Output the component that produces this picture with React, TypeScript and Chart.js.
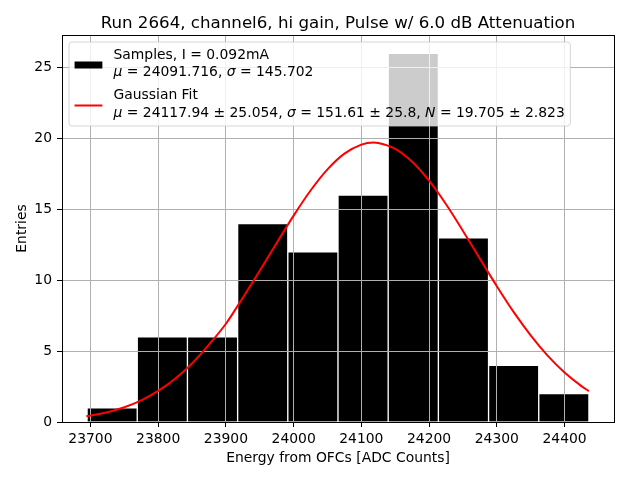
import React, { useEffect, useRef } from "react";
import { Chart, registerables } from "chart.js";

Chart.register(...registerables);

const titleText = "Run 2664, channel6, hi gain, Pulse w/ 6.0 dB Attenuation";
const xLabel = "Energy from OFCs [ADC Counts]";
const yLabel = "Entries";

// Histogram
const binEdges = [23695.0, 23769.1, 23843.2, 23917.3, 23991.4, 24065.5, 24139.6, 24213.7, 24287.8, 24361.9, 24436.0];
const binCounts = [1, 6, 6, 14, 12, 16, 26, 13, 4, 2];

// Gaussian fit curve
const fitX = [23694, 23725, 23750, 23775, 23800, 23825, 23850, 23875, 23900, 23925, 23950, 23975, 24000, 24025, 24050, 24075, 24100, 24118, 24125, 24150, 24175, 24200, 24225, 24250, 24275, 24300, 24325, 24350, 24375, 24400, 24425, 24436];
const fitY = [0.40, 0.69, 1.04, 1.53, 2.19, 3.05, 4.13, 5.46, 6.93, 8.77, 10.67, 12.63, 14.56, 16.33, 17.82, 18.93, 19.57, 19.71, 19.68, 19.27, 18.36, 17.02, 15.36, 13.48, 11.52, 9.58, 7.75, 6.11, 4.68, 3.49, 2.53, 2.18];

const xTicks = [23700, 23800, 23900, 24000, 24100, 24200, 24300, 24400];
const yTicks = [0, 5, 10, 15, 20, 25];
const xRange = [23658, 24473];
const yRange = [0, 27.3];

type Run = { t: string; i?: boolean };
const legendSamples: Run[][] = [
  [{ t: "Samples, I = 0.092mA" }],
  [{ t: "μ", i: true }, { t: " = 24091.716, " }, { t: "σ", i: true }, { t: " = 145.702" }],
];
const legendFit: Run[][] = [
  [{ t: "Gaussian Fit" }],
  [
    { t: "μ", i: true }, { t: " = 24117.94 ± 25.054, " },
    { t: "σ", i: true }, { t: " = 151.61 ± 25.8, " },
    { t: "N", i: true }, { t: " = 19.705 ± 2.823" },
  ],
];

const FONT = "'DejaVu Sans', sans-serif";
const FS = 13.9;

export default function App() {
  const ref = useRef<HTMLCanvasElement>(null);

  useEffect(() => {
    const canvas = ref.current;
    if (!canvas) return;

    const centers = binCounts.map((_, i) => (binEdges[i] + binEdges[i + 1]) / 2);

    const runsWidth = (ctx: CanvasRenderingContext2D, runs: Run[]) => {
      let w = 0;
      for (const r of runs) {
        ctx.font = `${r.i ? "italic " : ""}${FS}px ${FONT}`;
        w += ctx.measureText(r.t).width;
      }
      return w;
    };
    const drawRuns = (ctx: CanvasRenderingContext2D, runs: Run[], x: number, y: number) => {
      let cx = x;
      for (const r of runs) {
        ctx.font = `${r.i ? "italic " : ""}${FS}px ${FONT}`;
        ctx.fillText(r.t, cx, y);
        cx += ctx.measureText(r.t).width;
      }
    };

    const overlay = {
      id: "overlay",
      afterDatasetDraw(chart: any, args: any) {
        if (args.index !== 0) return;
        const { ctx, chartArea: a } = chart;
        const xs = chart.scales.x;
        const ys = chart.scales.y;
        ctx.save();
        ctx.strokeStyle = "#b0b0b0";
        ctx.lineWidth = 1;
        ctx.beginPath();
        for (const t of xs.ticks) {
          const px = Math.floor(xs.getPixelForValue(t.value)) + 0.5;
          ctx.moveTo(px, a.top);
          ctx.lineTo(px, a.bottom);
        }
        for (const t of ys.ticks) {
          const py = Math.floor(ys.getPixelForValue(t.value)) + 0.5;
          ctx.moveTo(a.left, py);
          ctx.lineTo(a.right, py);
        }
        ctx.stroke();
        ctx.restore();
      },
      afterDraw(chart: any) {
        const { ctx, chartArea: a } = chart;
        ctx.save();
        // frame
        ctx.strokeStyle = "#000";
        ctx.lineWidth = 1;
        const l = Math.floor(a.left) + 0.5;
        const r = Math.floor(a.right) + 0.5;
        const t = Math.floor(a.top) + 0.5;
        const b = Math.floor(a.bottom) + 0.5;
        ctx.strokeRect(l, t, r - l, b - t);

        // title
        ctx.fillStyle = "#000";
        ctx.font = `16.67px ${FONT}`;
        ctx.textAlign = "center";
        ctx.textBaseline = "alphabetic";
        ctx.fillText(titleText, (a.left + a.right) / 2, a.top - 7.5);

        // legend
        ctx.textAlign = "left";
        const pad = 0.4 * FS;
        const handleLen = 2 * FS;
        const handlePad = 0.8 * FS;
        const lines = [...legendSamples, ...legendFit];
        let maxW = 0;
        for (const ln of lines) maxW = Math.max(maxW, runsWidth(ctx, ln));
        const bx = a.left + 7;
        const by = a.top + 7;
        const bw = pad * 2 + handleLen + handlePad + maxW;
        const bh = 84;
        ctx.beginPath();
        const rad = 3;
        ctx.moveTo(bx + rad, by);
        ctx.lineTo(bx + bw - rad, by);
        ctx.quadraticCurveTo(bx + bw, by, bx + bw, by + rad);
        ctx.lineTo(bx + bw, by + bh - rad);
        ctx.quadraticCurveTo(bx + bw, by + bh, bx + bw - rad, by + bh);
        ctx.lineTo(bx + rad, by + bh);
        ctx.quadraticCurveTo(bx, by + bh, bx, by + bh - rad);
        ctx.lineTo(bx, by + rad);
        ctx.quadraticCurveTo(bx, by, bx + rad, by);
        ctx.closePath();
        ctx.fillStyle = "rgba(255,255,255,0.8)";
        ctx.fill();
        ctx.strokeStyle = "rgba(204,204,204,0.8)";
        ctx.lineWidth = 1;
        ctx.stroke();

        const hx = bx + pad;
        // samples handle
        ctx.fillStyle = "#000";
        ctx.fillRect(hx, by + 19.5, handleLen, 7);
        // fit handle
        ctx.strokeStyle = "red";
        ctx.lineWidth = 2;
        ctx.beginPath();
        ctx.moveTo(hx, by + 63.5);
        ctx.lineTo(hx + handleLen, by + 63.5);
        ctx.stroke();

        const tx = hx + handleLen + handlePad;
        const baselines = [17.3, 33.8, 56.8, 74.5];
        ctx.fillStyle = "#000";
        ctx.textBaseline = "alphabetic";
        lines.forEach((ln, i) => drawRuns(ctx, ln, tx, by + baselines[i]));
        ctx.restore();
      },
    };

    const chart = new Chart(canvas, {
      type: "bar",
      data: {
        datasets: [
          {
            type: "bar",
            data: centers.map((c, i) => ({ x: c, y: binCounts[i] })),
            backgroundColor: "#000",
            borderColor: "#fff",
            borderWidth: 1,
            barPercentage: 1,
            categoryPercentage: 1,
            order: 1,
          } as any,
          {
            type: "line",
            data: fitX.map((x, i) => ({ x, y: fitY[i] })),
            borderColor: "red",
            borderWidth: 2,
            pointRadius: 0,
            cubicInterpolationMode: "monotone",
            fill: false,
            order: 0,
          } as any,
        ],
      },
      options: {
        animation: false,
        responsive: false,
        devicePixelRatio: 1,
        layout: { padding: { left: 0, right: 26, top: 35, bottom: 0 } },
        plugins: {
          legend: { display: false },
          title: { display: false },
          tooltip: { enabled: false },
        },
        scales: {
          x: {
            type: "linear",
            min: xRange[0],
            max: xRange[1],
            offset: false,
            grid: { color: "#b0b0b0", tickColor: "#000", tickLength: 5, offset: false, lineWidth: 1 },
            border: { color: "#000" },
            ticks: {
              color: "#000",
              font: { family: FONT, size: FS },
              padding: 4,
              maxRotation: 0,
              autoSkip: false,
              callback: (v: any) => String(v),
            },
            afterBuildTicks: (s: any) => {
              s.ticks = xTicks.map((value) => ({ value }));
            },
            afterFit: (s: any) => {
              s.height = 58;
            },
            title: {
              display: true,
              text: xLabel,
              color: "#000",
              font: { family: FONT, size: FS },
              padding: { top: 0, bottom: 13 },
            },
          } as any,
          y: {
            type: "linear",
            min: yRange[0],
            max: yRange[1],
            grid: { color: "#b0b0b0", tickColor: "#000", tickLength: 5, lineWidth: 1 },
            border: { color: "#000" },
            ticks: {
              color: "#000",
              font: { family: FONT, size: FS },
              padding: 5,
              autoSkip: false,
              callback: (v: any) => String(v),
            },
            afterBuildTicks: (s: any) => {
              s.ticks = yTicks.map((value) => ({ value }));
            },
            afterFit: (s: any) => {
              s.width = 62;
            },
            title: {
              display: true,
              text: yLabel,
              color: "#000",
              font: { family: FONT, size: FS },
              padding: { top: 14, bottom: 0 },
            },
          } as any,
        },
      },
      plugins: [overlay as any],
    });

    return () => chart.destroy();
  }, []);

  return (
    <div style={{ position: "absolute", left: 0, top: 0, width: 640, height: 480 }}>
      <canvas ref={ref} width={640} height={480} style={{ display: "block" }} />
    </div>
  );
}
